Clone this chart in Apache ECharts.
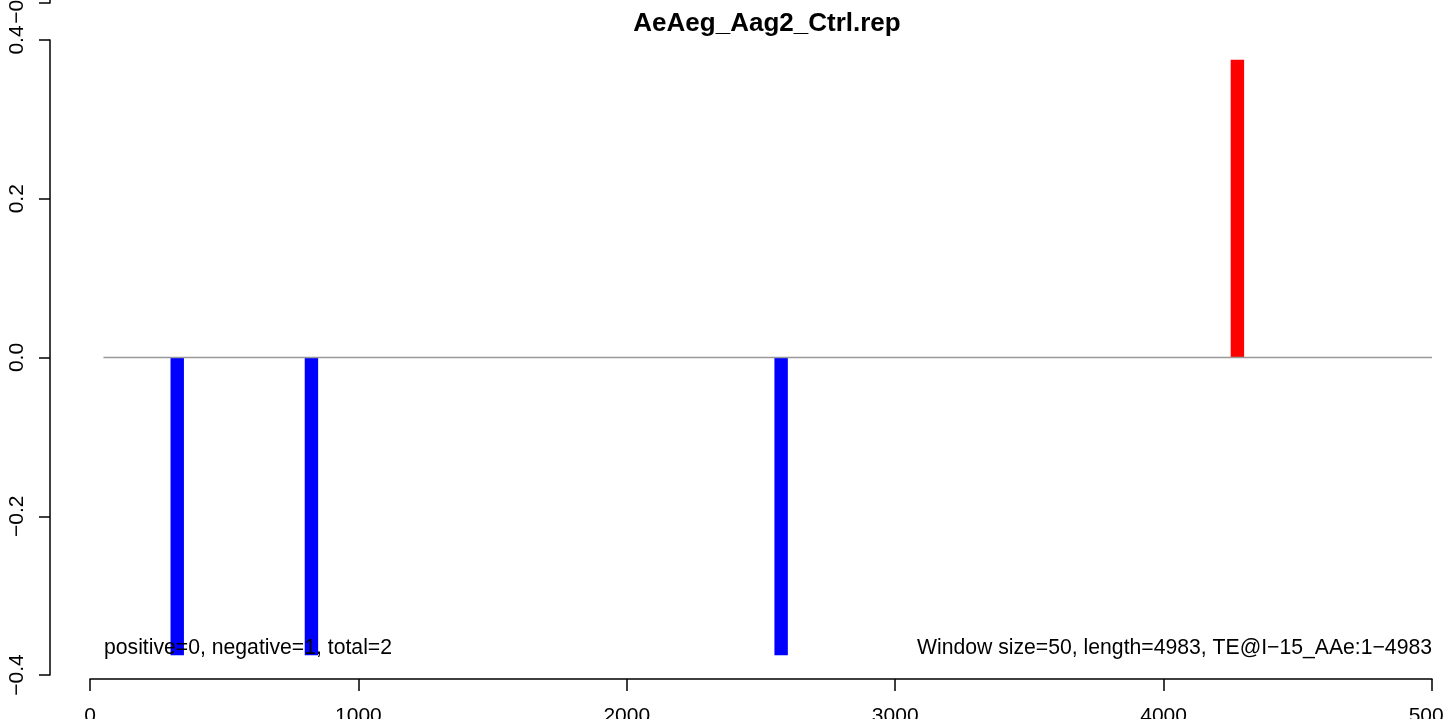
<!DOCTYPE html>
<html>
<head>
<meta charset="utf-8">
<script src="https://cdn.jsdelivr.net/npm/echarts@6/dist/echarts.min.js"></script>
<style>
html,body{margin:0;padding:0;background:#fff;}
#chart{width:1444px;height:719px;}
</style>
</head>
<body>
<div id="chart"></div>
<script>
// ---- data ----
const chartTitle = 'AeAeg_Aag2_Ctrl.rep';
const windowSize = 50;
const windowStarts = [300, 800, 2550, 4250];
const windowValues = [-0.375, -0.375, -0.375, 0.375];
const baselineRange = [50, 5000];
const xTickValues = [0, 1000, 2000, 3000, 4000, 5000];
const yTickValues = [-0.4, -0.2, 0.0, 0.2, 0.4];
const leftNote = 'positive=0, negative=1, total=2';
const rightNote = 'Window size=50, length=4983, TE@I\u221215_AAe:1\u22124983';

const FONT = '"Liberation Sans", Arial, Helvetica, sans-serif';
const fmtY = v => v.toFixed(1).replace('-', '\u2212');

const chart = echarts.init(document.getElementById('chart'), null, {renderer: 'canvas'});

function yAxisDef(gridIndex) {
  return {
    type: 'value', gridIndex: gridIndex,
    min: yTickValues[0], max: yTickValues[yTickValues.length - 1], interval: 0.2,
    position: 'left', offset: 40,
    axisLine: {show: true, onZero: false, lineStyle: {color: '#000', width: 1.5}},
    axisTick: {show: true, length: 11, lineStyle: {color: '#000', width: 1.5}},
    axisLabel: {rotate: 90, fontSize: 21, color: '#000', fontFamily: FONT, margin: 22,
      formatter: fmtY},
    splitLine: {show: false}
  };
}

const option = {
  backgroundColor: '#fff',
  animation: false,
  title: [
    {text: chartTitle, left: 767, top: 11, padding: 0, textAlign: 'center',
     textStyle: {fontSize: 26, fontWeight: 'bold', color: '#000', fontFamily: FONT}},
    {text: leftNote, left: 104, top: 638, padding: 0,
     textStyle: {fontSize: 21.2, fontWeight: 'normal', color: '#000', fontFamily: FONT}},
    {text: rightNote, right: 12, top: 638, padding: 0,
     textStyle: {fontSize: 21.2, fontWeight: 'normal', color: '#000', fontFamily: FONT}}
  ],
  grid: [
    {left: 90, right: 12, top: 40, height: 635, containLabel: false, outerBoundsMode: 'none'},
    {left: 90, right: 12, top: -632, height: 635, containLabel: false, outerBoundsMode: 'none'}
  ],
  xAxis: [
    {type: 'value', gridIndex: 0, min: xTickValues[0], max: xTickValues[xTickValues.length - 1],
     interval: 1000, position: 'bottom', offset: 4,
     axisLine: {show: true, onZero: false, lineStyle: {color: '#000', width: 1.5}},
     axisTick: {show: true, length: 12, lineStyle: {color: '#000', width: 1.5}},
     axisLabel: {fontSize: 21, color: '#000', fontFamily: FONT, margin: 27,
       formatter: v => String(v)},
     splitLine: {show: false}},
    {type: 'value', gridIndex: 1, min: 0, max: 5000, show: false}
  ],
  yAxis: [yAxisDef(0), yAxisDef(1)],
  series: [
    {
      type: 'line', xAxisIndex: 0, yAxisIndex: 0,
      data: [[baselineRange[0], 0], [baselineRange[1], 0]],
      symbol: 'none', silent: true,
      lineStyle: {color: '#999', width: 1.5}
    },
    {
      type: 'custom', xAxisIndex: 0, yAxisIndex: 0,
      data: windowStarts.map((s, i) => [s, windowValues[i]]),
      encode: {x: 0, y: 1},
      renderItem: function (params, api) {
        const s = api.value(0), v = api.value(1);
        const p0 = api.coord([s, 0]);
        const p1 = api.coord([s + windowSize, v]);
        return {
          type: 'rect',
          shape: {x: p0[0], y: Math.min(p0[1], p1[1]), width: p1[0] - p0[0], height: Math.abs(p1[1] - p0[1])},
          style: {fill: v < 0 ? '#0000FF' : '#FF0000'}
        };
      }
    }
  ]
};
chart.setOption(option);
</script>
</body>
</html>
